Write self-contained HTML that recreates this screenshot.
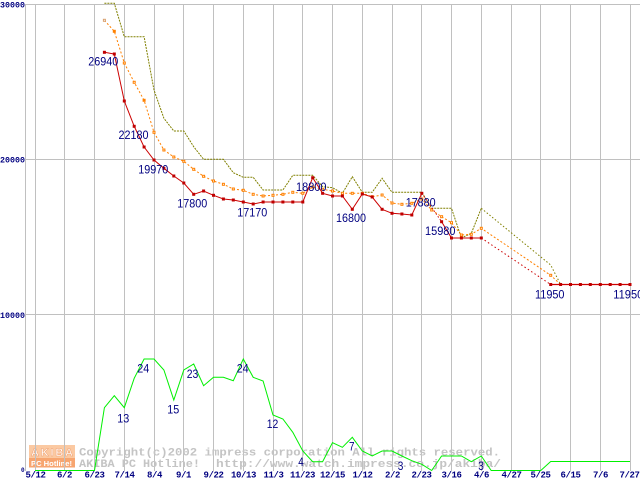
<!DOCTYPE html>
<html>
<head>
<meta charset="utf-8">
<style>
html,body{margin:0;padding:0;background:#fff;}
svg{display:block;}
.lbl{font-family:"Liberation Sans",sans-serif;font-size:12px;fill:#000080;}
.ax{font-family:"Liberation Mono",monospace;font-weight:bold;fill:#000080;}
.wm{font-family:"Liberation Mono",monospace;font-weight:bold;font-size:11px;fill:#c4c4c4;}
</style>
</head>
<body>
<svg width="640" height="480" viewBox="0 0 640 480" xmlns="http://www.w3.org/2000/svg">
<rect x="0" y="0" width="640" height="480" fill="#fff"/>

<!-- logo -->
<rect x="29" y="445" width="46" height="13" fill="#fbc9a2"/>
<rect x="29" y="458" width="46" height="9.5" fill="#f7a570"/>
<text x="31" y="456" font-family="Liberation Sans,sans-serif" font-weight="bold" font-size="11" fill="#fff" stroke="#f0a070" stroke-width="0.5" textLength="42" lengthAdjust="spacing">AKIBA</text>
<text x="31" y="466" font-family="Liberation Sans,sans-serif" font-weight="bold" font-size="7.5" fill="#fff" textLength="41" lengthAdjust="spacingAndGlyphs">PC Hotline!</text>

<!-- grid -->
<g stroke="#c0c0c0" stroke-width="1" shape-rendering="crispEdges">
<line x1="25" y1="4.5" x2="640" y2="4.5"/>
<line x1="25" y1="159.5" x2="640" y2="159.5"/>
<line x1="25" y1="314.5" x2="640" y2="314.5"/>
<line x1="25.5" y1="4" x2="25.5" y2="471"/>
<line x1="35.5" y1="4" x2="35.5" y2="471"/>
<line x1="64.5" y1="4" x2="64.5" y2="471"/>
<line x1="94.5" y1="4" x2="94.5" y2="471"/>
<line x1="124.5" y1="4" x2="124.5" y2="471"/>
<line x1="154.5" y1="4" x2="154.5" y2="471"/>
<line x1="183.5" y1="4" x2="183.5" y2="471"/>
<line x1="213.5" y1="4" x2="213.5" y2="471"/>
<line x1="243.5" y1="4" x2="243.5" y2="471"/>
<line x1="273.5" y1="4" x2="273.5" y2="471"/>
<line x1="302.5" y1="4" x2="302.5" y2="471"/>
<line x1="332.5" y1="4" x2="332.5" y2="471"/>
<line x1="362.5" y1="4" x2="362.5" y2="471"/>
<line x1="392.5" y1="4" x2="392.5" y2="471"/>
<line x1="421.5" y1="4" x2="421.5" y2="471"/>
<line x1="451.5" y1="4" x2="451.5" y2="471"/>
<line x1="481.5" y1="4" x2="481.5" y2="471"/>
<line x1="511.5" y1="4" x2="511.5" y2="471"/>
<line x1="540.5" y1="4" x2="540.5" y2="471"/>
<line x1="570.5" y1="4" x2="570.5" y2="471"/>
<line x1="600.5" y1="4" x2="600.5" y2="471"/>
<line x1="630.5" y1="4" x2="630.5" y2="471"/>
</g>

<!-- watermark -->
<text class="wm" x="79" y="455.7" textLength="421" lengthAdjust="spacingAndGlyphs">Copyright(c)2002 impress corporation All rights reserved.</text>
<text class="wm" x="79" y="467" textLength="121" lengthAdjust="spacingAndGlyphs">AKIBA PC Hotline!</text>
<text class="wm" x="216" y="467" textLength="285" lengthAdjust="spacingAndGlyphs">http://www.watch.impress.co.jp/akiba/</text>

<!-- y axis labels -->
<text class="ax" font-size="8" x="0" y="7.5" textLength="25" lengthAdjust="spacingAndGlyphs">30000</text>
<text class="ax" font-size="8" x="0" y="162.5" textLength="25" lengthAdjust="spacingAndGlyphs">20000</text>
<text class="ax" font-size="8" x="0" y="318" textLength="25" lengthAdjust="spacingAndGlyphs">10000</text>
<text class="ax" font-size="6" x="21" y="472">0</text>

<!-- x axis labels -->
<g class="ax" font-size="9" text-anchor="middle" letter-spacing="-0.4">
<text x="35.5" y="477.5">5/12</text>
<text x="64.5" y="477.5">6/2</text>
<text x="94.5" y="477.5">6/23</text>
<text x="124.5" y="477.5">7/14</text>
<text x="154.5" y="477.5">8/4</text>
<text x="183.5" y="477.5">9/1</text>
<text x="213.5" y="477.5">9/22</text>
<text x="243.5" y="477.5">10/13</text>
<text x="273.5" y="477.5">11/3</text>
<text x="302.5" y="477.5">11/23</text>
<text x="332.5" y="477.5">12/15</text>
<text x="362.5" y="477.5">1/12</text>
<text x="392.5" y="477.5">2/2</text>
<text x="421.5" y="477.5">2/23</text>
<text x="451.5" y="477.5">3/16</text>
<text x="481.5" y="477.5">4/6</text>
<text x="511.5" y="477.5">4/27</text>
<text x="540.5" y="477.5">5/25</text>
<text x="570.5" y="477.5">6/15</text>
<text x="600.5" y="477.5">7/6</text>
<text x="629.5" y="477.5">7/27</text>
</g>

<!-- green count line -->
<polyline fill="none" stroke="#00f000" stroke-width="1" points="35,470.5 94.5,470.5 104.4,407.7 114.3,395.7 124.3,407.7 134.2,378.3 144.1,359 154,359 163.9,370 173.8,400 183.8,370 193.7,364 203.6,385.7 213.5,377.3 223.4,377.3 233.3,380.7 243.3,359 253.2,377.3 263.1,381 273,415 282.9,419 292.8,432.3 302.8,451 312.7,461.7 322.6,461.7 332.5,442.7 342.4,447.3 352.3,437.3 362.3,451 372.2,456 382.1,451 392,451 401.9,456 411.8,460.7 421.8,464.3 431.7,470.5 441.6,456 451.5,456 461.4,456 471.3,461.7 481.3,456 491.2,470.5 540.8,470.5 550.7,461.5 630,461.5"/>

<!-- olive max line -->
<polyline fill="none" stroke="#808000" stroke-width="1" stroke-dasharray="2 1" points="104.4,3.3 114.3,3.3 124.3,36.7 134.2,36.7 144.1,36.7 154,90 163.9,118.3 173.8,131 183.8,131 193.7,146.7 203.6,159.3 213.5,159.3 223.4,159.3 233.3,172.7 243.3,177.3 253.2,177.3 263.1,190 273,190 282.9,190 292.8,175.3 302.8,175.3 312.7,175.3 322.6,186.7 332.5,187.7 342.4,193.3 352.3,176.7 362.3,192.3 372.2,192.3 382.1,178.3 392,192.3 401.9,192.3 411.8,192.3 421.8,192.3 431.7,208.3 441.6,208.3 451.5,208.3 461.4,238 471.3,233.3 481.3,208.3"/>
<polyline fill="none" stroke="#808000" stroke-width="1" stroke-dasharray="1.5 2" points="481.3,208.3 550.7,265 560.6,284.5"/>

<!-- orange avg line -->
<polyline fill="none" stroke="#ff8000" stroke-width="1" stroke-dasharray="2 2" points="104.4,20.3 114.3,31.3 124.3,63 134.2,82.3 144.1,100.3 154,132.3 163.9,150 173.8,157 183.8,161.3 193.7,169.3 203.6,176.3 213.5,181 223.4,184.3 233.3,189 243.3,190.3 253.2,194.3 263.1,196 273,195.3 282.9,194.3 292.8,192.3 302.8,193.3 312.7,187 322.6,189.3 332.5,191 342.4,193.3 352.3,193.3 362.3,193.3 372.2,196.7 382.1,195 392,203 401.9,204.3 411.8,203.3 421.8,199 431.7,210 441.6,216.7 451.5,222.7 461.4,235 471.3,234.3 481.3,228.3 550.7,275.3 560.6,284.5"/>
<g fill="#fff" stroke="#ff8000" stroke-width="1">
<rect x="103.4" y="19.3" width="2" height="2" stroke="#d8a070"/>
<rect x="113.3" y="30.3" width="2" height="2" fill="#ff8000"/>
<rect x="123.3" y="62" width="2" height="2"/>
<rect x="133.2" y="81.3" width="2" height="2"/>
<rect x="143.1" y="99.3" width="2" height="2" fill="#ff8000"/>
<rect x="153" y="131.3" width="2" height="2"/>
<rect x="162.9" y="149" width="2" height="2"/>
<rect x="172.8" y="156" width="2" height="2"/>
<rect x="182.8" y="160.3" width="2" height="2"/>
<rect x="192.7" y="168.3" width="2" height="2"/>
<rect x="202.6" y="175.3" width="2" height="2"/>
<rect x="212.5" y="180" width="2" height="2"/>
<rect x="222.4" y="183.3" width="2" height="2"/>
<rect x="232.3" y="188" width="2" height="2"/>
<rect x="242.3" y="189.3" width="2" height="2"/>
<rect x="252.2" y="193.3" width="2" height="2"/>
<rect x="262.1" y="195" width="2" height="2"/>
<rect x="272" y="194.3" width="2" height="2"/>
<rect x="281.9" y="193.3" width="2" height="2"/>
<rect x="291.8" y="191.3" width="2" height="2"/>
<rect x="301.8" y="192.3" width="2" height="2"/>
<rect x="311.7" y="186" width="2" height="2"/>
<rect x="321.6" y="188.3" width="2" height="2"/>
<rect x="331.5" y="190" width="2" height="2"/>
<rect x="341.4" y="192.3" width="2" height="2"/>
<rect x="351.3" y="192.3" width="2" height="2"/>
<rect x="361.3" y="192.3" width="2" height="2"/>
<rect x="371.2" y="195.7" width="2" height="2"/>
<rect x="381.1" y="194" width="2" height="2"/>
<rect x="391" y="202" width="2" height="2"/>
<rect x="400.9" y="203.3" width="2" height="2"/>
<rect x="410.8" y="202.3" width="2" height="2"/>
<rect x="420.8" y="198" width="2" height="2"/>
<rect x="430.7" y="209" width="2" height="2"/>
<rect x="440.6" y="215.7" width="2" height="2"/>
<rect x="450.5" y="221.7" width="2" height="2"/>
<rect x="460.4" y="234" width="2" height="2"/>
<rect x="470.3" y="233.3" width="2" height="2"/>
<rect x="480.3" y="227.3" width="2" height="2"/>
<rect x="549.7" y="274.3" width="2" height="2"/>
</g>

<!-- red min line -->
<polyline fill="none" stroke="#cc0000" stroke-width="1" points="104.4,52.3 114.3,54 124.3,101 134.2,126.3 144.1,147 154,160 163.9,168.3 173.8,176 183.8,183 193.7,194.3 203.6,191 213.5,195.3 223.4,199 233.3,200 243.3,202 253.2,204 263.1,202 273,202 282.9,202 292.8,202 302.8,202 312.7,177.7 322.6,193.3 332.5,196 342.4,196 352.3,209.3 362.3,194 372.2,197 382.1,209.3 392,213.3 401.9,214 411.8,215 421.8,193.3"/>
<polyline fill="none" stroke="#cc0000" stroke-width="1" stroke-dasharray="1.5 2" points="421.8,193.3 441.6,221.7"/>
<polyline fill="none" stroke="#cc0000" stroke-width="1" points="441.6,221.7 451.5,238 461.4,238 471.3,238 481.3,238"/>
<polyline fill="none" stroke="#cc0000" stroke-width="1" stroke-dasharray="1.5 2.5" points="481.3,238 550.7,284.5"/>
<polyline fill="none" stroke="#cc0000" stroke-width="1.2" points="550.7,284.5 630,284.5"/>
<g fill="#c00000">
<rect x="102.9" y="50.8" width="3" height="3"/>
<rect x="112.8" y="52.5" width="3" height="3"/>
<rect x="122.8" y="99.5" width="3" height="3"/>
<rect x="132.7" y="124.8" width="3" height="3"/>
<rect x="142.6" y="145.5" width="3" height="3"/>
<rect x="152.5" y="158.5" width="3" height="3"/>
<rect x="162.4" y="166.8" width="3" height="3"/>
<rect x="172.3" y="174.5" width="3" height="3"/>
<rect x="182.3" y="181.5" width="3" height="3"/>
<rect x="192.2" y="192.8" width="3" height="3"/>
<rect x="202.1" y="189.5" width="3" height="3"/>
<rect x="212" y="193.8" width="3" height="3"/>
<rect x="221.9" y="197.5" width="3" height="3"/>
<rect x="231.8" y="198.5" width="3" height="3"/>
<rect x="241.8" y="200.5" width="3" height="3"/>
<rect x="251.7" y="202.5" width="3" height="3"/>
<rect x="261.6" y="200.5" width="3" height="3"/>
<rect x="271.5" y="200.5" width="3" height="3"/>
<rect x="281.4" y="200.5" width="3" height="3"/>
<rect x="291.3" y="200.5" width="3" height="3"/>
<rect x="301.3" y="200.5" width="3" height="3"/>
<rect x="311.2" y="176.2" width="3" height="3"/>
<rect x="321.1" y="191.8" width="3" height="3"/>
<rect x="331" y="194.5" width="3" height="3"/>
<rect x="340.9" y="194.5" width="3" height="3"/>
<rect x="350.8" y="207.8" width="3" height="3"/>
<rect x="360.8" y="192.5" width="3" height="3"/>
<rect x="370.7" y="195.5" width="3" height="3"/>
<rect x="380.6" y="207.8" width="3" height="3"/>
<rect x="390.5" y="211.8" width="3" height="3"/>
<rect x="400.4" y="212.5" width="3" height="3"/>
<rect x="410.3" y="213.5" width="3" height="3"/>
<rect x="420.3" y="191.8" width="3" height="3"/>
<rect x="440.1" y="220.2" width="3" height="3"/>
<rect x="450" y="236.5" width="3" height="3"/>
<rect x="459.9" y="236.5" width="3" height="3"/>
<rect x="469.8" y="236.5" width="3" height="3"/>
<rect x="479.8" y="236.5" width="3" height="3"/>
<rect x="549.2" y="283" width="3" height="3"/>
<rect x="559.1" y="283" width="3" height="3"/>
<rect x="569" y="283" width="3" height="3"/>
<rect x="578.9" y="283" width="3" height="3"/>
<rect x="588.8" y="283" width="3" height="3"/>
<rect x="598.8" y="283" width="3" height="3"/>
<rect x="608.7" y="283" width="3" height="3"/>
<rect x="618.6" y="283" width="3" height="3"/>
<rect x="628.5" y="283" width="3" height="3"/>
</g>

<!-- price labels -->
<g class="lbl">
<text x="88.3" y="65.7" textLength="30" lengthAdjust="spacingAndGlyphs">26940</text>
<text x="118.5" y="139" textLength="30" lengthAdjust="spacingAndGlyphs">22180</text>
<text x="138.3" y="173.3" textLength="30" lengthAdjust="spacingAndGlyphs">19970</text>
<text x="177.3" y="207.3" textLength="30" lengthAdjust="spacingAndGlyphs">17800</text>
<text x="237.3" y="216.7" textLength="30" lengthAdjust="spacingAndGlyphs">17170</text>
<text x="296" y="191" textLength="30.5" lengthAdjust="spacingAndGlyphs">18800</text>
<text x="336" y="222" textLength="30" lengthAdjust="spacingAndGlyphs">16800</text>
<text x="405.7" y="206.3" textLength="30" lengthAdjust="spacingAndGlyphs">17880</text>
<text x="425" y="235" textLength="30.5" lengthAdjust="spacingAndGlyphs">15980</text>
<text x="535" y="298.3" textLength="29.5" lengthAdjust="spacingAndGlyphs">11950</text>
<text x="613.3" y="298.3" textLength="30" lengthAdjust="spacingAndGlyphs">11950</text>
</g>

<!-- count labels -->
<g class="lbl">
<text x="117.3" y="422.7" textLength="12" lengthAdjust="spacingAndGlyphs">13</text>
<text x="137.3" y="372.3" textLength="12" lengthAdjust="spacingAndGlyphs">24</text>
<text x="167.3" y="413.7" textLength="12" lengthAdjust="spacingAndGlyphs">15</text>
<text x="186.7" y="378" textLength="11.6" lengthAdjust="spacingAndGlyphs">23</text>
<text x="236.7" y="372.3" textLength="12" lengthAdjust="spacingAndGlyphs">24</text>
<text x="266.7" y="428" textLength="11.6" lengthAdjust="spacingAndGlyphs">12</text>
<text x="298.3" y="466" textLength="5.5" lengthAdjust="spacingAndGlyphs">4</text>
<text x="349" y="450.7" textLength="5.5" lengthAdjust="spacingAndGlyphs">7</text>
<text x="397.7" y="470" textLength="5.6" lengthAdjust="spacingAndGlyphs">3</text>
<text x="478.3" y="470" textLength="5.6" lengthAdjust="spacingAndGlyphs">3</text>
</g>
</svg>
</body>
</html>
